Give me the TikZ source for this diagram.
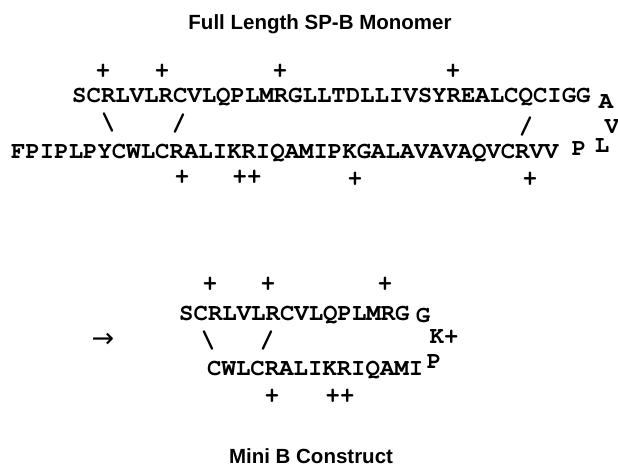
\documentclass[tikz,border=0pt]{standalone}
\usepackage{fontspec}
\setmainfont{Liberation Sans}
\newfontfamily\symfam{DejaVu Sans}
\newcommand\seqfont{\fontencoding{T1}\fontfamily{pcr}\fontseries{b}\fontsize{24}{24}\selectfont}
\tikzset{
  seq/.style={font=\seqfont, inner sep=0pt, anchor=base west},
  res/.style={font=\seqfont, inner sep=0pt, anchor=base},
  chg/.style={font=\seqfont, inner sep=0pt},
  ttl/.style={font={\bfseries\fontsize{20.5}{20.5}\selectfont}, inner sep=0pt, anchor=base}
}
\begin{document}
\begin{tikzpicture}[x=1pt, y=-1pt]
    \useasboundingbox (0,0) rectangle (618,467);

    % Title
    \node[ttl] (fulltitle) at (320,29) {Full Length SP-B Monomer};

    % Full length chain
    \node[seq] (fulltop) at (72,102) {SCRLVLRCVLQPLMRGLLTDLLIVSYREALCQCIGG};
    \node[seq] (fullbot) at (11,158) {FPIPLPYCWLCRALIKRIQAMIPKGALAVAVAQVCRVV};
    \node[res] (turnA) at (606,108) {A};
    \node[res] (turnV) at (612,133) {V};
    \node[res] (turnL) at (602,152) {L};
    \node[res] (turnP) at (579,155) {P};

    % Disulfide bonds
    \node[chg] (ssa) at (108,123) {\textbackslash};
    \node[chg] (ssb) at (179,124) {/};
    \node[chg] (ssc) at (526,127) {/};

    % Charges
    \node[chg] (pa) at (103,72) {+};
    \node[chg] (pb) at (162,72) {+};
    \node[chg] (pc) at (280,72) {+};
    \node[chg] (pd) at (453,72) {+};
    \node[chg] (pe) at (182,178) {+};
    \node[chg] (pf) at (247,178) {++};
    \node[chg] (pg) at (355,180) {+};
    \node[chg] (ph) at (530,180) {+};

    % Mini B
    \node[font={\symfam\fontsize{27}{27}\selectfont}, inner sep=0pt] (arrow) at (103,340) {→};
    \node[seq] (minitop) at (179,320) {SCRLVLRCVLQPLMRG};
    \node[seq] (minibot) at (207,375) {CWLCRALIKRIQAMI};
    \node[res] (turnG) at (423,322) {G};
    \node[res] (turnK) at (444,343) {K+};
    \node[res] (turnP2) at (434,368) {P};
    \node[chg] (ssd) at (208,341) {\textbackslash};
    \node[chg] (sse) at (267,341) {/};
    \node[chg] (qa) at (210,285) {+};
    \node[chg] (qb) at (268,285) {+};
    \node[chg] (qc) at (385,285) {+};
    \node[chg] (qd) at (272,397) {+};
    \node[chg] (qe) at (340,397) {++};

    \node[ttl] (minititle) at (311,463) {Mini B Construct};

\end{tikzpicture}
\end{document}
